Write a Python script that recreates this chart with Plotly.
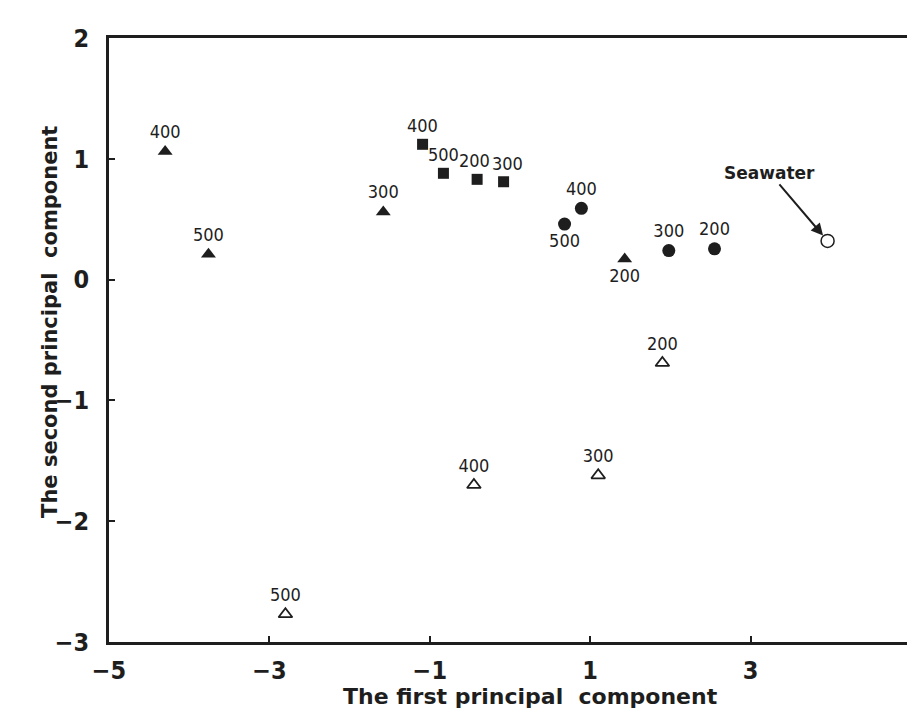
import plotly.graph_objects as go

# Data
temps = ["200", "300", "400", "500"]
tri_filled_x = [1.43, -1.58, -4.30, -3.76]
tri_filled_y = [0.17, 0.56, 1.06, 0.21]
square_x = [-0.41, -0.08, -1.09, -0.83]
square_y = [0.83, 0.81, 1.12, 0.88]
circle_x = [2.55, 1.98, 0.89, 0.68]
circle_y = [0.255, 0.24, 0.59, 0.46]
tri_open_x = [1.90, 1.10, -0.45, -2.80]
tri_open_y = [-0.69, -1.62, -1.70, -2.77]
seawater_x = [3.96]
seawater_y = [0.32]

x_ticks = [-5, -3, -1, 1, 3, 5]
y_ticks = [-3, -2, -1, 0, 1, 2]

INK = "#1e1e1e"
NARROW = "DejaVu Sans Condensed, Liberation Sans Narrow, Liberation Sans, sans-serif"
LABEL_FONT = dict(family=NARROW, size=18, color=INK)

fig = go.Figure()

def add_series(xs, ys, symbol, positions, line_w=0, fill=INK, size=13,
               labels=True):
    fig.add_trace(go.Scatter(
        x=xs, y=ys, mode="markers+text" if labels else "markers",
        text=temps if labels else None,
        textposition=positions, textfont=LABEL_FONT,
        marker=dict(symbol=symbol, size=size, color=fill,
                    line=dict(color=INK, width=line_w)),
        showlegend=False, cliponaxis=False))

add_series(tri_filled_x, tri_filled_y, "triangle-up",
           ["bottom center", "top center", "top center", "top center"])
add_series(square_x, square_y, "square", None, size=11, labels=False)
add_series(circle_x, circle_y, "circle",
           ["top center", "top center", "top center", "bottom center"])
add_series(tri_open_x, tri_open_y, "triangle-up-open",
           ["top center"] * 4, line_w=1.8, size=12)

# square labels as annotations so the adjacent "200" / "300" do not collide
square_label_shift = [-3, 4, 0, 0]
for xv, yv, t, sh in zip(square_x, square_y, temps, square_label_shift):
    fig.add_annotation(x=xv, y=yv, xref="x", yref="y", text=t,
                       showarrow=False, yanchor="bottom", yshift=6,
                       xshift=sh, font=LABEL_FONT)

fig.add_trace(go.Scatter(
    x=seawater_x, y=seawater_y, mode="markers",
    marker=dict(symbol="circle", size=13, color="white",
                line=dict(color=INK, width=1.5)),
    showlegend=False, cliponaxis=False))

fig.add_annotation(
    x=seawater_x[0], y=seawater_y[0], xref="x", yref="y",
    text="<b>Seawater</b>", showarrow=True, arrowhead=2, arrowsize=1.2,
    arrowwidth=2, arrowcolor=INK, ax=-58, ay=-68, standoff=7,
    font=dict(family="DejaVu Sans", size=17, color=INK))

fig.add_annotation(
    x=0.526, y=-0.091, xref="paper", yref="paper", showarrow=False,
    text="<b>The first principal  component</b>", yanchor="middle",
    font=dict(family="DejaVu Sans", size=22, color=INK))
fig.add_annotation(
    x=-0.0735, y=0.53, xref="paper", yref="paper", showarrow=False,
    text="<b>The second principal  component</b>", textangle=-90,
    xanchor="center", yanchor="middle",
    font=dict(family="DejaVu Sans", size=21, color=INK))

axis_common = dict(
    showline=True, mirror=True, linewidth=2.5, linecolor=INK,
    showgrid=False, zeroline=False, ticks="inside", ticklen=6,
    tickwidth=2, tickcolor=INK,
    tickfont=dict(family=NARROW, size=25, color=INK, weight="bold"))

fig.update_xaxes(range=[-5, 5], tickvals=x_ticks,
                 ticktext=[f"{v}".replace("-", "\u2212") for v in x_ticks],
                 ticklabelstandoff=4, **axis_common)
fig.update_yaxes(range=[-3, 2], tickvals=y_ticks,
                 ticktext=[f"{v}".replace("-", "\u2212") for v in y_ticks],
                 ticklabelstandoff=12, **axis_common)

fig.update_layout(
    width=907, height=705,
    margin=dict(l=101, r=1, t=30, b=71),
    paper_bgcolor="white", plot_bgcolor="white")

fig.write_html("out.html")
